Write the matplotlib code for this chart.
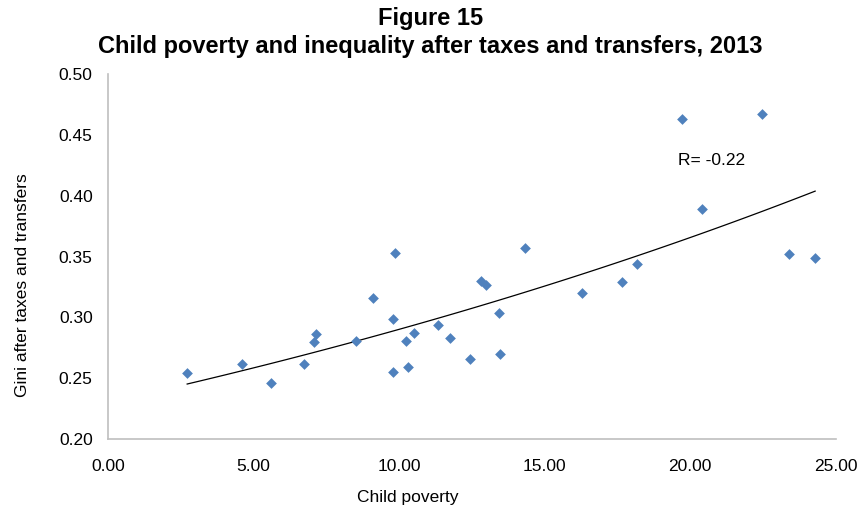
import numpy as np
import matplotlib
matplotlib.use("Agg")
from matplotlib import pyplot as plt

# child poverty (%) and Gini after taxes and transfers
poverty = [2.72, 4.61, 5.60, 6.75, 7.13, 7.07, 8.52, 9.09, 9.86, 9.80, 9.80,
           10.22, 10.50, 10.31, 11.33, 11.76, 12.44, 12.80, 13.00, 13.44, 13.48,
           14.33, 16.28, 17.66, 18.18, 19.72, 20.42, 22.46, 23.38, 24.29]
gini = [0.254, 0.262, 0.246, 0.262, 0.286, 0.280, 0.281, 0.316, 0.353, 0.299, 0.255,
        0.281, 0.287, 0.259, 0.294, 0.283, 0.266, 0.330, 0.327, 0.304, 0.270,
        0.357, 0.320, 0.329, 0.344, 0.463, 0.389, 0.467, 0.352, 0.349]
x_ticks = [0, 5, 10, 15, 20, 25]
y_ticks = [0.20, 0.25, 0.30, 0.35, 0.40, 0.45, 0.50]

plt.rcParams['font.family'] = ['Liberation Sans', 'DejaVu Sans']

fig = plt.figure(figsize=(8.59, 5.07), dpi=100)
ax = fig.add_axes([0.1257, 0.134, 0.8473, 0.72])

ax.scatter(poverty, gini, marker='D', s=30, color='#4F81BD', zorder=3, linewidths=0)

# exponential trend line (like Excel's)
px = np.array(poverty)
b, a = np.polyfit(px, np.log(gini), 1)
xs = np.linspace(px.min(), px.max(), 100)
ax.plot(xs, np.exp(a + b * xs), color='black', lw=0.9)

ax.text(19.57, 0.425, 'R= -0.22', fontsize=12.5, va='baseline')

ax.set_xlim(0, 25)
ax.set_ylim(0.20, 0.50)
ax.set_xticks(x_ticks)
ax.set_xticklabels(['%.2f' % v for v in x_ticks])
ax.set_yticks(y_ticks)
ax.set_yticklabels(['%.2f' % v for v in y_ticks])
ax.tick_params(axis='both', length=0, labelsize=12.5)
ax.tick_params(axis='x', pad=14)
ax.tick_params(axis='y', pad=11)
for side in ['top', 'right']:
    ax.spines[side].set_visible(False)
for side in ['left', 'bottom']:
    ax.spines[side].set_color('#BFBFBF')
    ax.spines[side].set_linewidth(1.2)

fig.text(0.501, 0.951, 'Figure 15', ha='center', va='baseline', fontsize=17,
         fontweight='bold')
fig.text(0.501, 0.895, 'Child poverty and inequality after taxes and transfers, 2013',
         ha='center', va='baseline', fontsize=17, fontweight='bold')
fig.text(0.475, 0.018, 'Child poverty', ha='center', va='center', fontsize=12.5)
fig.text(0.026, 0.437, 'Gini after taxes and transfers', ha='center', va='center',
         rotation=90, fontsize=12.5)

fig.savefig('out.png', dpi=100)
